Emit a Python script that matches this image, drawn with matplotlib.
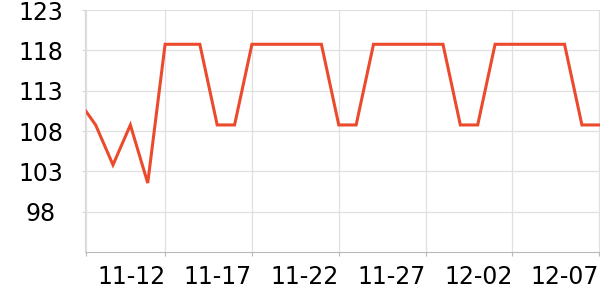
import numpy as np
import pandas as pd
import matplotlib
matplotlib.use("Agg")
from matplotlib import pyplot as plt
import matplotlib.dates as mdates

# daily values, 11-07 .. 12-07
dates = pd.date_range("2023-11-07", "2023-12-07", freq="D")
values = [111.8, 108.75, 103.8, 108.75, 101.55,
          118.75, 118.75, 118.75, 108.75, 108.75,
          118.75, 118.75, 118.75, 118.75, 118.75,
          108.75, 108.75, 118.75, 118.75, 118.75,
          118.75, 118.75, 108.75, 108.75, 118.75,
          118.75, 118.75, 118.75, 118.75, 108.75,
          108.75]
y_ticks = [98, 103, 108, 113, 118, 123]
x_tick_labels = ["11-12", "11-17", "11-22", "11-27", "12-02", "12-07"]

fig = plt.figure(figsize=(6, 3), dpi=100)
ax = fig.add_axes([85.5 / 600, 1 - 252 / 300, 1 - 85.5 / 600, 242 / 300])

ax.plot(dates, values, color="#ec4a2c", lw=2.2, solid_joinstyle="miter", clip_on=True)

x0 = dates[0] + pd.Timedelta(hours=10)
x1 = dates[-1] + pd.Timedelta(hours=1)
ax.set_xlim(x0, x1)
ax.set_ylim(93, 123)

tick_dates = [pd.Timestamp("2023-" + s) for s in x_tick_labels]
ax.set_xticks([x0] + tick_dates)
ax.set_xticklabels([""] + x_tick_labels, ha="right", fontsize=17)
ax.set_yticks(y_ticks)
ax.set_yticklabels([str(v) for v in y_ticks], ha="center", fontsize=17)

ax.grid(True, color="#e0e0e0", lw=0.9)
ax.set_axisbelow(True)
for s in ["top", "right"]:
    ax.spines[s].set_visible(False)
ax.spines["left"].set_color("#d8d8d8")
ax.spines["bottom"].set_color("#b8b8b8")
ax.tick_params(axis="x", length=3, color="#b8b8b8", pad=6)
ax.tick_params(axis="y", length=2, color="#d8d8d8", pad=30)

fig.savefig("out.png", dpi=100)
